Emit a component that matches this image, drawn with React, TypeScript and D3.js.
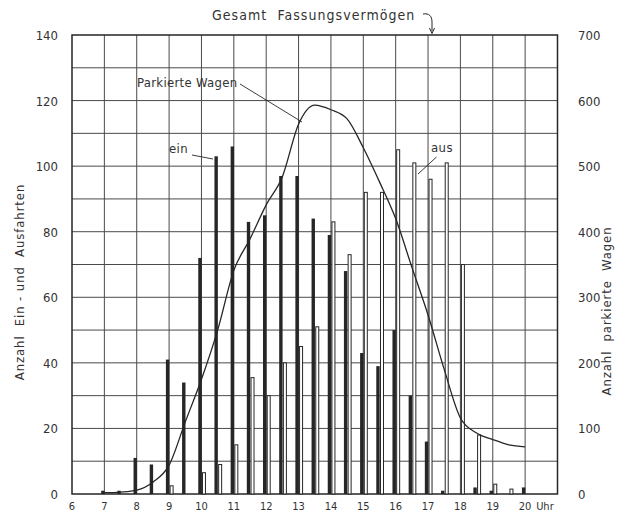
import React from "react";
import * as d3 from "d3";

const halfHours = [7, 7.5, 8, 8.5, 9, 9.5, 10, 10.5, 11, 11.5, 12, 12.5, 13, 13.5, 14, 14.5, 15, 15.5, 16, 16.5, 17, 17.5, 18, 18.5, 19, 19.5, 20];
const einValues = [1, 1, 11, 9, 41, 34, 72, 103, 106, 83, 85, 97, 97, 84, 79, 68, 43, 39, 50, 30, 16, 1, 0, 2, 1, 0, 2];
const ausValues = [0, 0, 0, 0, 2.5, 0, 6.5, 9, 15, 35.5, 30, 40, 45, 51, 83, 73, 92, 92, 105, 101, 96, 101, 70, 18, 3, 1.5, 0];
const parkedValues = [2, 3, 6, 18, 44, 110, 175, 250, 341, 389, 441, 484, 564, 593, 586, 572, 528, 476, 420, 346, 273, 190, 116, 93, 83, 75, 72];

const hourTicks = [6, 7, 8, 9, 10, 11, 12, 13, 14, 15, 16, 17, 18, 19, 20];
const leftTicks = [0, 20, 40, 60, 80, 100, 120, 140];
const rightTicks = [0, 100, 200, 300, 400, 500, 600, 700];

const FONT = "'DejaVu Sans Condensed', 'Liberation Sans Narrow', 'DejaVu Sans', sans-serif";
const INK = "#262626";

export default function App() {
  const W = 629, H = 513;
  const left = 72, right = 557.5, top = 35, bottom = 494;
  const x = d3.scaleLinear().domain([6, 21]).range([left, right]);
  const yL = d3.scaleLinear().domain([0, 140]).range([bottom, top]);
  const yR = d3.scaleLinear().domain([0, 700]).range([bottom, top]);

  const line = d3
    .line<number>()
    .x((_, i) => x(halfHours[i]))
    .y((d) => yR(d))
    .curve(d3.curveMonotoneX);

  const vGrid = d3.range(7, 21);
  const hGrid = d3.range(10, 140, 10);

  return (
    <svg width={W} height={H} style={{ position: "absolute", left: 0, top: 0, background: "#fff" }}>
      <rect x={0} y={0} width={W} height={H} fill="#ffffff" />
      {/* grid */}
      {vGrid.map((h) => (
        <line key={"v" + h} x1={x(h)} x2={x(h)} y1={top} y2={bottom} stroke="#4a4a4a" strokeWidth={1} />
      ))}
      {hGrid.map((v) => (
        <line key={"h" + v} x1={left} x2={right} y1={yL(v)} y2={yL(v)} stroke="#4a4a4a" strokeWidth={1} />
      ))}
      <rect x={left} y={top} width={right - left} height={bottom - top} fill="none" stroke={INK} strokeWidth={1.5} />

      {/* bars */}
      {halfHours.map((t, i) =>
        einValues[i] > 0 ? (
          <rect key={"e" + i} x={x(t) - 3.2} y={yL(einValues[i])} width={3.4} height={bottom - yL(einValues[i])} fill={INK} />
        ) : null
      )}
      {halfHours.map((t, i) =>
        ausValues[i] > 0 ? (
          <rect key={"a" + i} x={x(t) + 1} y={yL(ausValues[i])} width={3} height={bottom - yL(ausValues[i])} fill="#fff" stroke={INK} strokeWidth={1} />
        ) : null
      )}

      {/* parked line */}
      <path d={line(parkedValues) || ""} fill="none" stroke={INK} strokeWidth={1.3} />

      {/* left ticks */}
      {leftTicks.map((v) => (
        <text key={"l" + v} x={58} y={yL(v) + 5} textAnchor="end" fontFamily={FONT} fontSize={13} fill="#333">
          {v}
        </text>
      ))}
      {rightTicks.map((v) => (
        <text key={"r" + v} x={578} y={yR(v) + 5} textAnchor="start" fontFamily={FONT} fontSize={13} fill="#333">
          {v}
        </text>
      ))}
      {hourTicks.map((h) => (
        <text key={"x" + h} x={x(h)} y={510} textAnchor="middle" fontFamily={FONT} fontSize={11} fill="#333">
          {h}
        </text>
      ))}
      <text x={x(20) + 11} y={510} fontFamily={FONT} fontSize={11} fill="#333">Uhr</text>

      {/* axis titles */}
      <text transform={`translate(24,${282}) rotate(-90)`} textAnchor="middle" fontFamily={FONT} fontSize={13} letterSpacing={0.9} fill="#333" xmlSpace="preserve">
        Anzahl  Ein - und  Ausfahrten
      </text>
      <text transform={`translate(611,${311}) rotate(-90)`} textAnchor="middle" fontFamily={FONT} fontSize={13} letterSpacing={0.9} fill="#333" xmlSpace="preserve">
        Anzahl  parkierte  Wagen
      </text>

      {/* title */}
      <text x={212} y={20} fontFamily={FONT} fontSize={14} letterSpacing={1.05} fill="#333" xmlSpace="preserve">
        Gesamt  Fassungsvermögen
      </text>
      <path d={`M423,14 C429,13 432,16 432,22 L432,31`} fill="none" stroke={INK} strokeWidth={1} />
      <path d={`M429.5,28 L432,33.5 L434.5,28`} fill="none" stroke={INK} strokeWidth={1} />

      {/* annotations */}
      <text x={137} y={87} fontFamily={FONT} fontSize={13} letterSpacing={0.3} fill="#333">Parkierte Wagen</text>
      <line x1={240} y1={84} x2={302} y2={122} stroke={INK} strokeWidth={0.9} />
      <text x={169} y={153} fontFamily={FONT} fontSize={13} letterSpacing={0.4} fill="#333">ein</text>
      <line x1={192} y1={155} x2={213} y2={159} stroke={INK} strokeWidth={0.9} />
      <text x={431} y={152} fontFamily={FONT} fontSize={13} letterSpacing={0.4} fill="#333">aus</text>
      <line x1={436.5} y1={157} x2={418} y2={174} stroke={INK} strokeWidth={0.9} />
    </svg>
  );
}
